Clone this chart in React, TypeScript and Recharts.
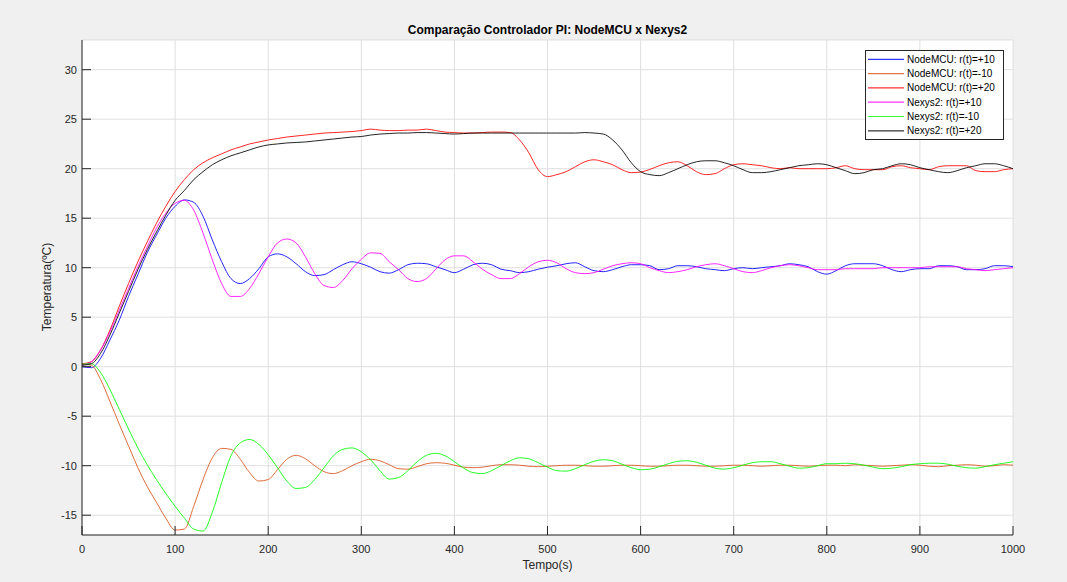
import { LineChart, Line, XAxis, YAxis, CartesianGrid } from "recharts"

// sampling instants (s), every 10 s
const time = Array.from({ length: 101 }, (_, i) => i * 10)

const nodeRef10 = [
  0.0, -0.1, 0.85, 2.7, 4.7, 7.1, 9.3, 11.5, 13.3, 15.0,
  16.2, 16.85, 16.6, 15.2, 12.8, 10.6, 8.9, 8.4, 8.9, 9.9,
  11.1, 11.4, 11.1, 10.4, 9.6, 9.2, 9.3, 9.8, 10.3, 10.6,
  10.4, 10.05, 9.6, 9.45, 9.8, 10.3, 10.45, 10.4, 10.1, 9.8,
  9.5, 9.85, 10.3, 10.45, 10.3, 9.85, 9.7, 9.5, 9.6, 9.85,
  10.05, 10.2, 10.4, 10.5, 10.1, 9.7, 9.6, 9.8, 10.1, 10.3,
  10.3, 10.2, 9.8, 9.9, 10.2, 10.2, 10.1, 9.9, 9.8, 9.7,
  9.9, 10.0, 9.9, 10.0, 10.1, 10.2, 10.4, 10.3, 10.1, 9.6,
  9.35, 9.7, 10.2, 10.4, 10.4, 10.4, 10.2, 9.8, 9.6, 9.8,
  9.9, 9.9, 10.2, 10.2, 10.1, 9.8, 9.8, 9.9, 10.2, 10.2,
  10.1,
]

const nodeRefM10 = [
  0.25, 0.15, -1.3, -3.5, -5.8, -8.0, -10.2, -12.1, -13.7, -15.3,
  -16.5, -16.4, -14.1, -11.4, -9.2, -8.25, -8.35, -9.35, -10.7, -11.55,
  -11.4, -10.4, -9.35, -8.95, -9.3, -10.0, -10.6, -10.8, -10.5, -10.0,
  -9.6, -9.35, -9.5, -9.9, -10.3, -10.35, -10.1, -9.8, -9.7, -9.75,
  -9.95, -10.15, -10.2, -10.15, -10.0, -9.9, -9.9, -9.95, -10.05, -10.1,
  -10.05, -10.0, -9.95, -9.95, -10.0, -10.05, -10.05, -10.0, -9.95, -9.95,
  -10.0, -10.05, -10.05, -10.0, -9.95, -9.95, -10.0, -10.05, -10.05, -10.0,
  -9.95, -9.95, -10.0, -10.05, -10.0, -9.95, -9.95, -10.0, -10.05, -10.0,
  -9.95, -9.95, -10.0, -9.9, -9.95, -10.0, -10.05, -10.0, -9.95, -9.9,
  -9.95, -10.05, -10.1, -10.0, -9.95, -9.9, -9.95, -10.05, -10.0, -9.9,
  -9.95,
]

const nodeRef20 = [
  0.3, 0.5, 1.7, 3.7, 6.1, 8.4, 10.6, 12.6, 14.5, 16.2,
  17.7, 18.9, 19.9, 20.6, 21.1, 21.5, 21.9, 22.2, 22.5, 22.7,
  22.9, 23.05, 23.2, 23.3, 23.4, 23.5, 23.6, 23.65, 23.7, 23.75,
  23.85, 24.0, 23.9, 23.85, 23.85, 23.9, 23.9, 24.0, 23.85, 23.7,
  23.65, 23.6, 23.6, 23.65, 23.7, 23.7, 23.65, 22.9, 21.6, 19.9,
  19.2, 19.4, 19.7, 20.2, 20.7, 20.9, 20.7, 20.4, 19.9, 19.6,
  19.66, 19.93, 20.3, 20.6, 20.7, 20.3, 19.7, 19.4, 19.5, 20.0,
  20.4, 20.5, 20.4, 20.3, 20.1, 20.0, 20.1, 20.0, 20.0, 20.0,
  20.0, 20.1, 20.3, 20.0, 19.9, 19.9, 19.9, 20.2, 20.3, 20.1,
  20.0, 19.9, 20.2, 20.3, 20.3, 20.3, 19.8, 19.7, 19.7, 19.9,
  20.0,
]

const nexRef10 = [
  0.15, 0.5, 1.7, 3.5, 5.7, 7.9, 10.1, 12.1, 14.0, 15.5,
  16.5, 16.8, 15.8, 13.5, 10.8, 8.4, 7.1, 7.1, 7.9, 9.4,
  11.1, 12.5, 12.9, 12.5, 11.1, 9.4, 8.2, 8.0, 8.7, 9.9,
  10.85, 11.5, 11.45, 10.6, 9.8, 8.9, 8.6, 8.9, 9.85, 10.8,
  11.2, 11.2, 10.6, 9.85, 9.3, 8.9, 8.9, 9.4, 10.1, 10.6,
  10.75, 10.5, 9.9, 9.5, 9.4, 9.5, 9.85, 10.2, 10.4, 10.5,
  10.4, 10.0, 9.7, 9.5, 9.6, 9.8, 10.1, 10.3, 10.4, 10.2,
  9.9, 9.6, 9.5, 9.7, 10.0, 10.2, 10.3, 10.2, 10.0, 9.8,
  9.8, 9.8, 9.9, 9.9, 9.9, 9.9, 10.0, 10.0, 10.0, 10.0,
  10.0, 10.1, 10.1, 10.1, 10.1, 9.9, 9.8, 9.7, 9.8, 9.9,
  10.0,
]

const nexRefM10 = [
  0.25, 0.3, -0.6, -2.3, -4.3, -6.3, -8.2, -9.9, -11.4, -12.8,
  -14.1, -15.3, -16.4, -16.6, -14.7, -11.7, -9.0, -7.7, -7.35, -7.85,
  -8.9, -10.2, -11.55, -12.3, -12.2, -11.4, -10.2, -9.0, -8.35, -8.2,
  -8.6, -9.4, -10.5, -11.35, -11.2, -10.5, -9.6, -8.95, -8.75, -9.0,
  -9.6, -10.25, -10.7, -10.8, -10.5, -10.0, -9.5, -9.2, -9.3, -9.7,
  -10.15, -10.5, -10.55, -10.3, -9.9, -9.55, -9.4, -9.5, -9.85, -10.2,
  -10.4, -10.35, -10.1, -9.8, -9.55, -9.5, -9.65, -9.95, -10.25, -10.35,
  -10.2, -9.95, -9.7, -9.6, -9.6, -9.8, -10.05, -10.25, -10.2, -10.0,
  -9.8, -9.8, -9.75, -9.8, -9.95, -10.15, -10.3, -10.25, -10.1, -9.9,
  -9.8, -9.75, -9.75, -9.85, -10.05, -10.2, -10.25, -10.1, -9.9, -9.75,
  -9.6,
]

const nexRef20 = [
  0.15, 0.3, 1.35, 3.2, 5.4, 7.6, 9.8, 11.8, 13.6, 15.3,
  16.8, 17.8, 18.9, 19.7, 20.4, 20.9, 21.3, 21.6, 21.9, 22.2,
  22.4, 22.5, 22.6, 22.65, 22.7, 22.8, 22.9, 23.0, 23.1, 23.2,
  23.25, 23.4, 23.5, 23.55, 23.6, 23.6, 23.65, 23.65, 23.6, 23.55,
  23.5, 23.55, 23.6, 23.6, 23.6, 23.6, 23.6, 23.6, 23.6, 23.6,
  23.6, 23.6, 23.6, 23.6, 23.65, 23.6, 23.5, 22.9, 21.9, 20.6,
  19.7, 19.4, 19.3, 19.6, 20.0, 20.4, 20.7, 20.8, 20.8, 20.6,
  20.3, 19.9, 19.6, 19.6, 19.7, 19.9, 20.1, 20.3, 20.4, 20.5,
  20.4, 20.1, 19.8, 19.5, 19.6, 19.9, 20.0, 20.3, 20.5, 20.4,
  20.1, 19.9, 19.7, 19.6, 19.8, 20.1, 20.3, 20.5, 20.5, 20.3,
  20.0,
]

const xTicks = [0, 100, 200, 300, 400, 500, 600, 700, 800, 900, 1000]
const yTicks = [-15, -10, -5, 0, 5, 10, 15, 20, 25, 30]

const series = [
  { key: "nodeRef10", name: "NodeMCU: r(t)=+10", color: "#0000ff", values: nodeRef10 },
  { key: "nodeRefM10", name: "NodeMCU: r(t)=-10", color: "#D95319", values: nodeRefM10 },
  { key: "nodeRef20", name: "NodeMCU: r(t)=+20", color: "#ff0000", values: nodeRef20 },
  { key: "nexRef10", name: "Nexys2: r(t)=+10", color: "#ff00ff", values: nexRef10 },
  { key: "nexRefM10", name: "Nexys2: r(t)=-10", color: "#00ff00", values: nexRefM10 },
  { key: "nexRef20", name: "Nexys2: r(t)=+20", color: "#000000", values: nexRef20 },
]

const data = time.map((t, i) => {
  const row: Record<string, number> = { t }
  series.forEach((s) => {
    row[s.key] = s.values[i]
  })
  return row
})

const font = "'Liberation Sans', Arial, Helvetica, sans-serif"
const axisColor = "#262626"

export default function App() {
  return (
    <div
      style={{
        position: "absolute",
        left: 0,
        top: 0,
        width: 1067,
        height: 582,
        background: "#f0f0f0",
        fontFamily: font,
      }}
    >
      <LineChart
        width={1067}
        height={582}
        data={data}
        margin={{ top: 40, right: 54, bottom: 17, left: 42 }}
      >
        <CartesianGrid fill="#ffffff" stroke="#dfdfdf" />
        <XAxis
          dataKey="t"
          type="number"
          domain={[0, 1000]}
          ticks={xTicks}
          allowDataOverflow
          height={30}
          stroke={axisColor}
          tickSize={-9}
          tickMargin={19}
          tick={{ fontSize: 11, fill: axisColor, fontFamily: font }}
        />
        <YAxis
          type="number"
          domain={[-17, 33]}
          ticks={yTicks}
          allowDataOverflow
          width={40}
          stroke={axisColor}
          tickSize={-9}
          tickMargin={14}
          tick={{ fontSize: 11, fill: axisColor, fontFamily: font }}
        />
        {series.map((s) => (
          <Line
            key={s.key}
            dataKey={s.key}
            name={s.name}
            type="monotone"
            stroke={s.color}
            strokeWidth={1}
            strokeOpacity={0.85}
            dot={false}
            isAnimationActive={false}
          />
        ))}
      </LineChart>

      {/* title, axis labels and legend, placed like the matlab figure */}
      <svg
        width={1067}
        height={582}
        style={{ position: "absolute", left: 0, top: 0, pointerEvents: "none" }}
        fontFamily={font}
      >
        <text x={547.5} y={34} textAnchor="middle" fontSize={12} fontWeight="bold" fill="#000">
          Comparação Controlador PI: NodeMCU x Nexys2
        </text>
        <text x={547.5} y={569} textAnchor="middle" fontSize={12} fill={axisColor}>
          Tempo(s)
        </text>
        <text
          x={47}
          y={287}
          textAnchor="middle"
          dominantBaseline="central"
          fontSize={12}
          fill={axisColor}
          transform="rotate(-90, 47, 287)"
        >
          Temperatura(ºC)
        </text>

        <rect x={865.5} y={50.5} width={138} height={89} fill="#fff" stroke={axisColor} strokeWidth={1} />
        {series.map((s, i) => {
          const y = 59.3 + i * 14.3
          return (
            <g key={s.key}>
              <line x1={868} x2={904} y1={y} y2={y} stroke={s.color} strokeWidth={1.2} strokeOpacity={0.8} />
              <text x={907} y={y} dominantBaseline="central" fontSize={10} fill="#000">
                {s.name}
              </text>
            </g>
          )
        })}
      </svg>
    </div>
  )
}
